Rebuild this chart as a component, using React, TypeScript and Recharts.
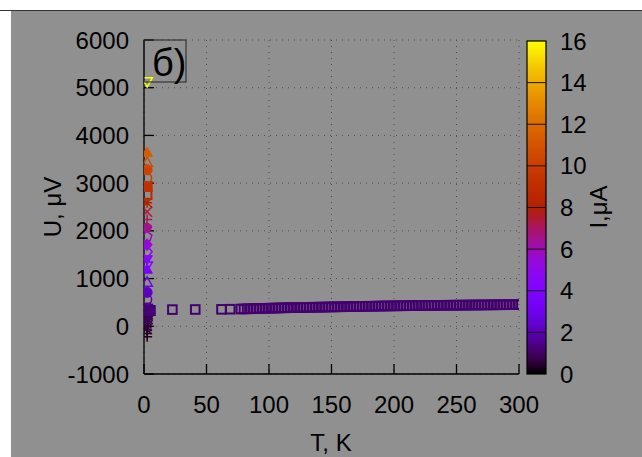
import { CartesianGrid, Scatter, ScatterChart, XAxis, YAxis } from "recharts";

const xTicks = [0, 50, 100, 150, 200, 250, 300];
const yTicks = [-1000, 0, 1000, 2000, 3000, 4000, 5000, 6000];
const cbTicks = [0, 2, 4, 6, 8, 10, 12, 14, 16];

// open squares (pt 4), I ≈ 1.15 µA, temperature sweep
const bandI = 1.15;
const bandT = [
  2.5, 22.7, 41, 62, 69, 77.5, 80, 82.5, 85, 87.5, 90, 92.5, 95, 97.5, 100,
  102.5, 105, 107.5, 110, 112.5, 115, 117.5, 120, 122.5, 125, 127.5, 130,
  132.5, 135, 137.5, 140, 142.5, 145, 147.5, 150, 152.5, 155, 157.5, 160,
  162.5, 165, 167.5, 170, 172.5, 175, 177.5, 180, 182.5, 185, 187.5, 190,
  192.5, 195, 197.5, 200, 202.5, 205, 207.5, 210, 212.5, 215, 217.5, 220,
  222.5, 225, 227.5, 230, 232.5, 235, 237.5, 240, 242.5, 245, 247.5, 250,
  252.5, 255, 257.5, 260, 262.5, 265, 267.5, 270, 272.5, 275, 277.5, 280,
  282.5, 285, 287.5, 290, 292.5, 295, 297.5, 300,
];
const bandU = [
  355, 350, 352, 355, 358, 362, 364, 366, 367, 370, 371, 373, 375, 377, 379,
  381, 382, 384, 386, 387, 389, 390, 392, 393, 394, 395, 397,
  397, 399, 400, 401, 402, 403, 405, 406, 407, 408, 409, 410,
  411, 413, 414, 415, 416, 417, 418, 420, 420, 422, 423, 424,
  425, 426, 427, 428, 429, 430, 430, 431, 432, 433, 434, 435,
  435, 436, 437, 437, 438, 439, 439, 440, 441, 441, 442, 443,
  443, 444, 444, 445, 446, 446, 447, 447, 448, 449, 449, 450,
  450, 451, 452, 452, 453, 454, 454, 455,
];

// low-temperature points, gnuplot point type cycles with the current
const lowT = [
  2.5, 2.5, 2.5, 2, 2, 2, 2, 3, 3, 3, 3, 1, 3, 5,
  2.5, 2.5, 2.5, 2.5, 2.5, 2.5, 2.5, 2.5, 2.5, 2.5,
  2.5, 2.5, 2.5, 2.5, 2.5, 2.5, 2.5, 2.5, 2.5, 2.5,
];
const lowU = [
  -220, -150, -80, -60, 0, 60, 120, 150, 210, 260, 300, 380, 360, 330,
  560, 710, 920, 1190, 1270, 1400, 1560, 1710, 1880, 2070,
  2240, 2400, 2590, 2760, 2930, 3110, 3280, 3430, 3640, 5130,
];
const lowI = [
  0.3, 0.3, 0.3, 0.6, 0.6, 0.6, 0.6, 0.9, 0.9, 0.9, 0.9, 1.25, 1.25, 1.25,
  1.75, 2.2, 2.9, 3.7, 4.0, 4.4, 4.9, 5.3, 5.9, 6.5,
  7.0, 7.5, 8.1, 8.6, 9.2, 9.7, 10.2, 10.7, 11.4, 16,
];
const lowPt = [
  1, 1, 1, 2, 2, 2, 2, 3, 3, 3, 3, 5, 5, 5,
  6, 7, 8, 9, 10, 11, 12, 13, 14, 15,
  1, 2, 3, 4, 5, 6, 7, 8, 9, 10,
];

const FONT = '"Liberation Sans", Arial, sans-serif';
const BG = "#909090";

// gnuplot "rgbformulae 7,5,15"
function palette(i: number) {
  const x = Math.min(Math.max(i / 16, 0), 1);
  const r = Math.sqrt(x);
  const g = x * x * x;
  const b = Math.max(0, Math.sin(2 * Math.PI * x));
  return `rgb(${Math.round(r * 255)},${Math.round(g * 255)},${Math.round(b * 255)})`;
}

function Marker(props: any) {
  const { cx, cy, payload } = props;
  if (cx == null || cy == null) return null;
  const c = palette(payload.i);
  const r = payload.pt === 4 ? 4.3 : 5;
  const open = { fill: "none", stroke: c, strokeWidth: payload.pt === 4 ? 2 : 1.5 };
  const solid = { fill: c, stroke: c, strokeWidth: 1 };
  const tri = (d: number) =>
    `${cx},${cy - d * r * 1.1} ${cx + r * 1.05},${cy + d * r * 0.75} ${cx - r * 1.05},${cy + d * r * 0.75}`;
  const pent = Array.from({ length: 5 }, (_, k) => {
    const a = -Math.PI / 2 + (k * 2 * Math.PI) / 5;
    return `${cx + r * Math.cos(a)},${cy + r * Math.sin(a)}`;
  }).join(" ");
  const dia = `${cx},${cy - r * 1.2} ${cx + r},${cy} ${cx},${cy + r * 1.2} ${cx - r},${cy}`;
  const plus = `M${cx - r},${cy}H${cx + r}M${cx},${cy - r}V${cy + r}`;
  const cross = `M${cx - r},${cy - r}L${cx + r},${cy + r}M${cx - r},${cy + r}L${cx + r},${cy - r}`;
  switch (payload.pt) {
    case 1:
      return <path d={plus} {...open} />;
    case 2:
      return <path d={cross} {...open} />;
    case 3:
      return <path d={plus + cross} {...open} />;
    case 4:
      return <rect x={cx - r} y={cy - r} width={2 * r} height={2 * r} {...open} />;
    case 5:
      return <rect x={cx - r} y={cy - r} width={2 * r} height={2 * r} {...solid} />;
    case 6:
      return <circle cx={cx} cy={cy} r={r - 0.5} {...open} />;
    case 7:
      return <circle cx={cx} cy={cy} r={r} {...solid} />;
    case 8:
      return <polygon points={tri(1)} {...open} />;
    case 9:
      return <polygon points={tri(1)} {...solid} />;
    case 10:
      return <polygon points={tri(-1)} {...open} />;
    case 11:
      return <polygon points={tri(-1)} {...solid} />;
    case 12:
      return <polygon points={dia} {...open} />;
    case 13:
      return <polygon points={dia} {...solid} />;
    case 14:
      return <polygon points={pent} {...open} />;
    default:
      return <polygon points={pent} {...solid} />;
  }
}

const band = bandT.map((t, k) => ({ t, u: bandU[k], i: bandI, pt: 4 }));
const low = lowT
  .map((t, k) => ({ t, u: lowU[k], i: lowI[k], pt: lowPt[k] }))
  .sort((a, b) => a.i - b.i);

const tickFont = { fill: "#000", fontSize: 24, fontFamily: FONT };

// colour box geometry
const CB = { x: 527, y: 41, w: 19, h: 333 };
const cbY = (v: number) => CB.y + CB.h - (v / 16) * CB.h;
const gradStops = Array.from({ length: 33 }, (_, k) => k / 2);

export default function App() {
  return (
    <div
      style={{
        position: "fixed",
        left: 0,
        top: 0,
        width: 642,
        height: 457,
        background: "#fff",
        fontFamily: FONT,
        overflow: "hidden",
      }}
    >
      <div style={{ position: "absolute", left: 0, top: 10, width: 642, height: 1, background: "#333" }} />
      <div style={{ position: "absolute", left: 11, top: 11, width: 631, height: 446, background: BG }} />
      <div style={{ position: "absolute", left: 0, top: 0 }}>
        <ScatterChart width={642} height={457} margin={{ top: 40, right: 123, bottom: 53, left: 64 }}>
          <CartesianGrid stroke="#4e4e4e" strokeDasharray="1 5" strokeWidth={1} />
          <Scatter data={band} shape={Marker} isAnimationActive={false} />
          <Scatter data={low} shape={Marker} isAnimationActive={false} />
          <XAxis
            type="number"
            dataKey="t"
            domain={[0, 300]}
            ticks={xTicks}
            height={30}
            tickSize={-10}
            tickMargin={32}
            tick={tickFont}
            axisLine={{ stroke: "#000", strokeWidth: 1.3 }}
            tickLine={{ stroke: "#000", strokeWidth: 1.3 }}
            allowDataOverflow
          />
          <XAxis
            xAxisId="top"
            orientation="top"
            type="number"
            domain={[0, 300]}
            ticks={xTicks}
            height={0}
            tickSize={-10}
            tickFormatter={() => ""}
            axisLine={{ stroke: "#000", strokeWidth: 1.3 }}
            tickLine={{ stroke: "#000", strokeWidth: 1.3 }}
            allowDataOverflow
          />
          <YAxis
            type="number"
            dataKey="u"
            domain={[-1000, 6000]}
            ticks={yTicks}
            width={80}
            tickSize={-10}
            tickMargin={25}
            tick={tickFont}
            axisLine={{ stroke: "#000", strokeWidth: 1.3 }}
            tickLine={{ stroke: "#000", strokeWidth: 1.3 }}
            allowDataOverflow
          />
          <YAxis
            yAxisId="right"
            orientation="right"
            type="number"
            domain={[-1000, 6000]}
            ticks={yTicks}
            width={0}
            tickSize={-10}
            tickFormatter={() => ""}
            axisLine={{ stroke: "#000", strokeWidth: 1.3 }}
            tickLine={{ stroke: "#000", strokeWidth: 1.3 }}
            allowDataOverflow
          />
        </ScatterChart>
      </div>
      <svg width={642} height={457} style={{ position: "absolute", left: 0, top: 0, pointerEvents: "none" }}>
        <defs>
          <linearGradient id="cb" x1="0" y1="1" x2="0" y2="0">
            {gradStops.map((v) => (
              <stop key={v} offset={v / 16} stopColor={palette(v)} />
            ))}
          </linearGradient>
        </defs>
        <rect x={144} y={40} width={42} height={42} fill="none" stroke="#222" strokeWidth={1} />
        <text x={152} y={76} fontSize={38} fontFamily={FONT}>
          б)
        </text>
        <text
          x={52}
          y={207}
          fontSize={24}
          fontFamily={FONT}
          textAnchor="middle"
          dominantBaseline="central"
          transform="rotate(-90 52 207)"
        >
          U, μV
        </text>
        <text x={331} y={451} fontSize={24} fontFamily={FONT} textAnchor="middle">
          T, K
        </text>
        <rect x={CB.x} y={CB.y} width={CB.w} height={CB.h} fill="url(#cb)" stroke="#000" strokeWidth={1.2} />
        {cbTicks.slice(1, -1).map((v) => (
          <line key={v} x1={CB.x} x2={CB.x + CB.w} y1={cbY(v)} y2={cbY(v)} stroke="#111" strokeWidth={1} />
        ))}
        {cbTicks.map((v) => (
          <text key={v} x={560} y={cbY(v)} fontSize={24} fontFamily={FONT} dominantBaseline="central">
            {v}
          </text>
        ))}
        <text
          x={598}
          y={207}
          fontSize={24}
          fontFamily={FONT}
          textAnchor="middle"
          dominantBaseline="central"
          transform="rotate(-90 598 207)"
        >
          I,μA
        </text>
      </svg>
    </div>
  );
}
